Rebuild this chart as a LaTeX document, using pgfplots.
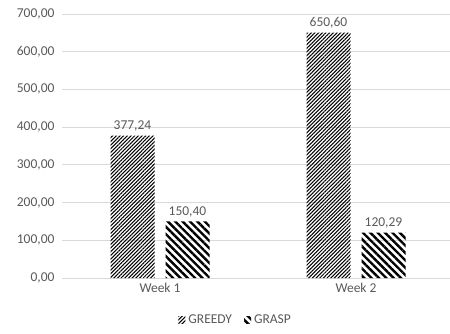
\documentclass[border=0pt]{standalone}
\usepackage{pgfplots}
\pgfplotsset{compat=1.18}
\usetikzlibrary{patterns.meta}
\usepackage{fontspec}
\setmainfont{Carlito}
\definecolor{txtgray}{HTML}{595959}
\definecolor{gridgray}{HTML}{D9D9D9}
\begin{document}
\begin{tikzpicture}
\path[use as bounding box] (0pt,0pt) rectangle (450pt,333pt);
\begin{axis}[
  at={(62pt,55pt)}, anchor=south west,
  scale only axis, width=392pt, height=264pt,
  ybar=11pt, bar width=44pt,
  xmin=-0.5, xmax=1.5, ymin=0, ymax=700,
  xtick={0,1}, xticklabels={Week 1, Week 2},
  ytick={0,100,...,700},
  major tick length=0pt,
  axis line style={draw=none},
  ymajorgrids, grid style={gridgray, line width=0.8pt},
  font=\fontsize{13.5}{15}\selectfont,
  tick label style={txtgray, font=\fontsize{13.5}{15}\selectfont},
  /pgf/number format/assume math mode=true,
  yticklabel style={/pgf/number format/.cd, fixed, fixed zerofill, precision=2, use comma},
  yticklabel shift=4pt,
  xticklabel shift=2pt,
  nodes near coords={\pgfmathprintnumber[fixed,fixed zerofill,precision=2,use comma,assume math mode=true]{\pgfplotspointmeta}},
  nodes near coords style={txtgray, font=\fontsize{13.5}{15}\selectfont, yshift=1pt},
  legend columns=2,
  legend style={at={(0.443,-0.159)}, anchor=center, draw=none, fill=none,
    font=\fontsize{13.5}{15}\selectfont, text=txtgray,
    /tikz/every odd column/.append style={column sep=1pt},
    /tikz/every even column/.append style={column sep=10pt}},
  legend image code/.code={\fill[#1] (0pt,-3.5pt) rectangle (7pt,3.5pt);},
]
\addplot[draw=none, pattern={Lines[angle=45, distance=2.6pt, line width=1.05pt]}, pattern color=black]
  coordinates {(0,377.24) (1,650.60)};
\addplot[draw=none, pattern={Lines[angle=135, distance=5.2pt, line width=2.4pt]}, pattern color=black]
  coordinates {(0,150.40) (1,120.29)};
\legend{GREEDY, GRASP}
\end{axis}
\end{tikzpicture}
\end{document}
